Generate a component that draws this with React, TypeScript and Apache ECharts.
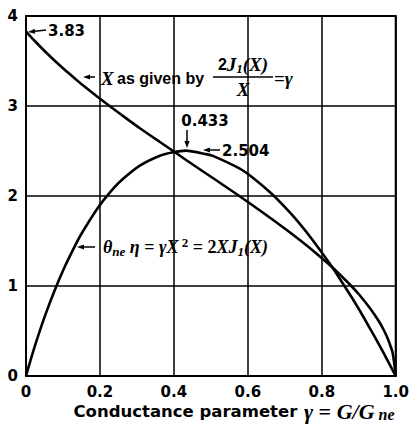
import React, { useEffect, useRef } from "react";
import * as echarts from "echarts";

// Conductance parameter gamma (x) for each read point
const gammaPts = [0, 0.0106, 0.029, 0.053, 0.0785, 0.1054, 0.1338, 0.148, 0.1941, 0.226, 0.2589, 0.309, 0.3622, 0.398, 0.433, 0.487, 0.5055, 0.577, 0.6118, 0.663, 0.7124, 0.744, 0.7741, 0.817, 0.8305, 0.88, 0.902, 0.931, 0.9557, 0.969, 0.98, 0.992, 1.0];
// X as given by 2J1(X)/X = gamma
const xCurve = [3.83, 3.78, 3.7, 3.6, 3.5, 3.4, 3.3, 3.25, 3.1, 3.0, 2.9, 2.75, 2.6, 2.5, 2.4, 2.25, 2.2, 2.0, 1.9, 1.75, 1.6, 1.5, 1.4, 1.25, 1.2, 1.0, 0.9, 0.75, 0.6, 0.5, 0.4, 0.25, 0];
// theta_ne * eta = gamma X^2 = 2 X J1(X)
const thetaCurve = [0, 0.152, 0.398, 0.688, 0.962, 1.219, 1.457, 1.567, 1.866, 2.035, 2.177, 2.34, 2.448, 2.486, 2.504, 2.465, 2.446, 2.307, 2.209, 2.031, 1.824, 1.674, 1.517, 1.276, 1.196, 0.88, 0.731, 0.524, 0.344, 0.242, 0.157, 0.062, 0];

const xTicks = [0, 0.2, 0.4, 0.6, 0.8, 1.0];
const yTicks = [0, 1, 2, 3, 4];

const SANS = "Liberation Sans";
const WIDE = "DejaVu Sans";
const SERIF = "Liberation Serif";

function arrow(x1: number, y1: number, x2: number, y2: number) {
  const dx = x2 - x1;
  const dy = y2 - y1;
  const len = Math.sqrt(dx * dx + dy * dy);
  const ux = dx / len;
  const uy = dy / len;
  const hl = 7;
  const hw = 2.6;
  const bx = x2 - ux * hl;
  const by = y2 - uy * hl;
  return [
    {
      type: "line",
      shape: { x1, y1, x2: bx, y2: by },
      style: { stroke: "#000", lineWidth: 1.5 },
      z: 100,
    },
    {
      type: "polygon",
      shape: {
        points: [
          [x2, y2],
          [bx - uy * hw, by + ux * hw],
          [bx + uy * hw, by - ux * hw],
        ],
      },
      style: { fill: "#000" },
      z: 100,
    },
  ];
}

const richStyles = {
  i: { fontFamily: SERIF, fontStyle: "italic", fontWeight: "bold", fontSize: 19, fill: "#000", lineHeight: 22, verticalAlign: "middle" },
  s: { fontFamily: SANS, fontWeight: "bold", fontSize: 16, fill: "#000", lineHeight: 22, verticalAlign: "middle" },
  m: { fontFamily: SERIF, fontWeight: "bold", fontSize: 19, fill: "#000", lineHeight: 22, verticalAlign: "middle" },
  sub: { fontFamily: SERIF, fontStyle: "italic", fontWeight: "bold", fontSize: 13, fill: "#000", lineHeight: 13, verticalAlign: "bottom", padding: [9, 0, 0, 0] },
  sup: { fontFamily: SERIF, fontWeight: "bold", fontSize: 13, fill: "#000", lineHeight: 13, verticalAlign: "top", padding: [0, 0, 9, 0] },
};

const thetaRich = {
  ...richStyles,
  i: { ...richStyles.i, fontSize: 18 },
  m: { ...richStyles.m, fontSize: 18 },
};

const titleRich = {
  ...richStyles,
  t: { fontFamily: WIDE, fontWeight: "bold", fontSize: 16.5, fill: "#000", lineHeight: 22, verticalAlign: "middle" },
  i: { ...richStyles.i, fontSize: 22 },
  m: { ...richStyles.m, fontSize: 22 },
  sub: { ...richStyles.sub, fontSize: 16, padding: [10, 0, 0, 0] },
};

export default function App() {
  const ref = useRef<HTMLDivElement>(null);

  useEffect(() => {
    if (!ref.current) return;
    const chart = echarts.init(ref.current, undefined, { renderer: "svg" });

    const xData = gammaPts.map((g, i) => [g, xCurve[i]]);
    const tData = gammaPts.map((g, i) => [g, thetaCurve[i]]);

    const numStyle = { fontFamily: WIDE, fontWeight: "bold", fontSize: 15, fill: "#000" };

    chart.setOption({
      animation: false,
      backgroundColor: "#fff",
      grid: {
        left: 26,
        right: 14,
        top: 16,
        bottom: 49,
        show: true,
        borderColor: "#000",
        borderWidth: 2,
        backgroundColor: "transparent",
      },
      xAxis: {
        type: "value",
        min: xTicks[0],
        max: xTicks[xTicks.length - 1],
        interval: 0.2,
        axisLine: { show: true, lineStyle: { color: "#000", width: 2 } },
        axisTick: { show: false },
        splitLine: { show: true, lineStyle: { color: "#000", width: 1.5 } },
        axisLabel: {
          margin: 8,
          color: "#000",
          fontFamily: WIDE,
          fontWeight: "bold",
          fontSize: 15,
          formatter: (v: number) => (v === 0 ? "0" : v.toFixed(1)),
        },
      },
      yAxis: {
        type: "value",
        min: yTicks[0],
        max: yTicks[yTicks.length - 1],
        interval: 1,
        axisLine: { show: true, lineStyle: { color: "#000", width: 2 } },
        axisTick: { show: false },
        splitLine: { show: true, lineStyle: { color: "#000", width: 1.5 } },
        axisLabel: {
          margin: 8,
          color: "#000",
          fontFamily: WIDE,
          fontWeight: "bold",
          fontSize: 15,
        },
      },
      series: [
        {
          type: "line",
          data: xData,
          smooth: 0.2,
          showSymbol: false,
          lineStyle: { color: "#000", width: 2.6 },
          z: 5,
        },
        {
          type: "line",
          data: tData,
          smooth: 0.2,
          showSymbol: false,
          lineStyle: { color: "#000", width: 2.6 },
          z: 5,
        },
      ],
      graphic: [
        // 3.83 label
        { type: "text", x: 48, y: 31, z: 100, style: { ...numStyle, text: "3.83", verticalAlign: "middle" } },
        ...arrow(46, 30, 28, 32),
        // X as given by ...
        {
          type: "text",
          x: 101,
          y: 78,
          z: 100,
          style: { text: "{i|X} {s|as given by}", rich: richStyles, verticalAlign: "middle" },
        },
        ...arrow(95, 77, 83, 77),
        {
          type: "text",
          x: 243,
          y: 64,
          z: 100,
          style: { text: "{s|2}{i|J}{sub|1}{i|(X)}", rich: richStyles, align: "center", verticalAlign: "middle" },
        },
        {
          type: "line",
          z: 100,
          shape: { x1: 213, y1: 77, x2: 273, y2: 77 },
          style: { stroke: "#000", lineWidth: 1.4 },
        },
        {
          type: "text",
          x: 243,
          y: 89,
          z: 100,
          style: { text: "{i|X}", rich: richStyles, align: "center", verticalAlign: "middle" },
        },
        {
          type: "text",
          x: 274,
          y: 78,
          z: 100,
          style: { text: "{m|=}{i|γ}", rich: richStyles, verticalAlign: "middle" },
        },
        // 0.433 label
        { type: "text", x: 205, y: 121, z: 100, style: { ...numStyle, text: "0.433", align: "center", verticalAlign: "middle" } },
        ...arrow(187, 130, 187, 148),
        // 2.504 label
        { type: "text", x: 222, y: 151, z: 100, style: { ...numStyle, text: "2.504", verticalAlign: "middle" } },
        ...arrow(220, 150, 203, 150),
        // theta label
        {
          type: "text",
          x: 103,
          y: 247,
          z: 100,
          style: {
            text: "{i|θ}{sub|ne}{i| η}{m| = }{i|γX}{sup| 2}{m| = 2}{i|XJ}{sub|1}{i|(X)}",
            rich: thetaRich,
            verticalAlign: "middle",
          },
        },
        ...arrow(95, 247, 77, 247),
        // axis title
        {
          type: "text",
          x: 234,
          y: 411,
          z: 100,
          style: {
            text: "{t|Conductance parameter}  {i|γ}{m| = }{i|G/G}{sub| ne}",
            rich: titleRich,
            align: "center",
            verticalAlign: "middle",
          },
        },
      ],
    });

    return () => {
      chart.dispose();
    };
  }, []);

  return <div ref={ref} style={{ width: 412, height: 425, position: "absolute", left: 0, top: 0 }} />;
}
